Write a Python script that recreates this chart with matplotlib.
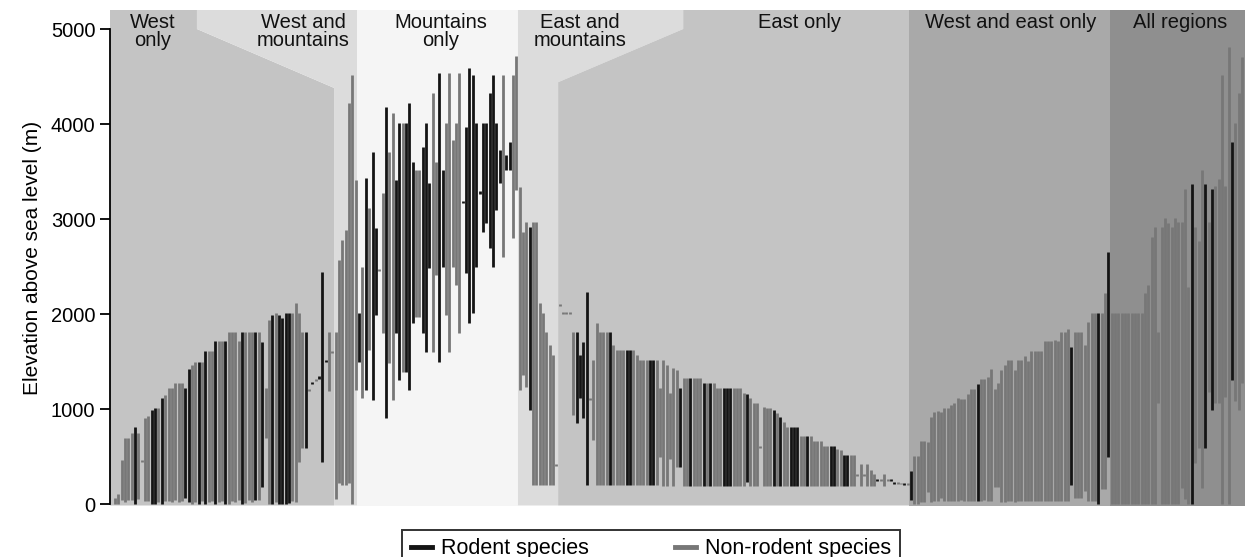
import matplotlib
matplotlib.use("Agg")
import matplotlib.pyplot as plt
from matplotlib.lines import Line2D
import numpy as np

plt.rcParams['font.family'] = ['Liberation Sans', 'DejaVu Sans']

# ---------------- data: elevation range of each species (m) ----------------
# West only (66)
west_lo = [0, 0, 40, 20, 40, 40, 0, 50, 440, 30,
           30, 0, 0, 20, 0, 30, 30, 20, 40, 20,
           30, 60, 20, 0, 20, 0, 30, 0, 20, 30,
           0, 20, 30, 0, 0, 30, 20, 40, 0, 10,
           40, 20, 40, 40, 180, 700, 0, 0, 20, 0,
           0, 0, 10, 30, 20, 440, 590, 590, 1190, 1260,
           1295, 1320, 440, 1495, 1190, 1590]
west_hi = [60, 110, 460, 700, 700, 750, 810, 750, 465, 910,
           930, 990, 1010, 1010, 1115, 1150, 1220, 1220, 1270, 1270,
           1270, 1220, 1420, 1465, 1500, 1500, 1500, 1610, 1610, 1610,
           1715, 1715, 1715, 1715, 1810, 1810, 1810, 1715, 1810, 1810,
           1810, 1810, 1810, 1810, 1705, 1220, 1940, 1990, 2010, 1990,
           1955, 2010, 2010, 2010, 2115, 2010, 1810, 1810, 1215, 1285,
           1320, 1345, 2440, 1520, 1810, 1615]
west_rod = [0, 0, 0, 0, 0, 0, 1, 0, 0, 0,
            0, 1, 1, 0, 1, 0, 0, 0, 0, 0,
            0, 1, 1, 0, 0, 1, 0, 1, 0, 0,
            1, 0, 0, 1, 0, 0, 0, 0, 1, 0,
            0, 0, 1, 0, 1, 0, 0, 1, 0, 1,
            1, 1, 1, 0, 0, 0, 0, 1, 0, 1,
            0, 1, 1, 1, 0, 0]
# West and mountains (7)
wm_lo = [50, 220, 200, 200, 220, 0, 1200]
wm_hi = [1810, 2570, 2780, 2885, 4220, 4515, 3410]
wm_rod = [0, 0, 0, 0, 0, 0, 0]
# Mountains only (48)
mtn_lo = [1495, 1115, 1200, 1620, 1095, 1990, 2450, 1800, 905, 1485,
          1095, 1800, 1305, 1390, 1390, 1200, 1905, 1970, 1970, 1800,
          1600, 2485, 1600, 2410, 1495, 2500, 1990, 1600, 2500, 2305,
          1800, 3170, 2430, 1905, 2010, 2500, 3265, 2865, 2955, 2695,
          2500, 3095, 3375, 2600, 3515, 3515, 2800, 3305]
mtn_hi = [2010, 2495, 3430, 3115, 3705, 2905, 2475, 3275, 4180, 3705,
          4115, 3410, 4010, 4010, 4010, 4220, 3600, 3515, 3515, 3760,
          4010, 3375, 4325, 3600, 4535, 3515, 4010, 4535, 3830, 4010,
          4535, 3195, 3970, 4590, 4515, 4010, 3290, 4010, 4010, 4325,
          4515, 4010, 3725, 4515, 3670, 3810, 4515, 4715]
mtn_rod = [1, 0, 1, 0, 1, 1, 0, 0, 1, 0,
           0, 1, 1, 0, 1, 1, 1, 0, 0, 1,
           1, 1, 0, 0, 1, 1, 0, 0, 0, 0,
           0, 1, 1, 1, 1, 1, 1, 1, 1, 1,
           1, 1, 1, 0, 1, 1, 0, 0]
# East and mountains (12)
em_lo = [1200, 1360, 1230, 990, 200, 200, 200, 200, 200, 200, 200, 400]
em_hi = [3340, 2865, 2970, 2915, 2970, 2970, 2115, 2010, 1810, 1675, 1570, 425]
em_rod = [0, 0, 0, 1, 0, 0, 0, 0, 0, 0, 0, 0]
# East only (105)
east_lo = [2085, 2000, 2000, 2000, 935, 850, 1115, 905, 200, 1095,
           675, 200, 200, 200, 200, 200, 200, 200, 200, 200,
           200, 200, 200, 200, 200, 200, 200, 200, 200, 200,
           495, 190, 190, 470, 190, 390, 390, 190, 190, 190,
           190, 190, 190, 190, 190, 190, 190, 190, 190, 190,
           190, 190, 190, 190, 190, 190, 230, 190, 190, 190,
           590, 190, 190, 190, 190, 190, 190, 190, 190, 190,
           190, 190, 190, 190, 190, 190, 190, 190, 190, 190,
           190, 190, 190, 190, 190, 190, 190, 190, 190, 300,
           190, 300, 190, 190, 190, 245, 245, 190, 245, 245,
           215, 215, 210, 205, 205]
east_hi = [2110, 2025, 2025, 2025, 1810, 1810, 1570, 1705, 2230, 1120,
           1515, 1905, 1810, 1810, 1810, 1810, 1675, 1620, 1620, 1620,
           1620, 1620, 1620, 1570, 1515, 1515, 1515, 1515, 1515, 1515,
           1220, 1515, 1465, 1170, 1430, 1410, 1220, 1325, 1325, 1325,
           1325, 1325, 1325, 1275, 1275, 1275, 1275, 1220, 1220, 1220,
           1220, 1220, 1220, 1220, 1220, 1170, 1160, 1115, 1060, 1060,
           615, 1020, 1010, 1010, 990, 955, 915, 865, 810, 810,
           810, 810, 715, 715, 715, 715, 665, 665, 665, 610,
           610, 610, 610, 580, 565, 515, 515, 515, 515, 315,
           420, 315, 420, 360, 315, 260, 260, 315, 260, 260,
           230, 230, 225, 220, 220]
east_rod = [0, 0, 0, 0, 0, 1, 1, 1, 1, 0,
            0, 0, 0, 0, 0, 1, 0, 0, 0, 0,
            1, 1, 0, 0, 0, 0, 0, 1, 1, 0,
            0, 0, 0, 0, 0, 0, 1, 0, 0, 1,
            0, 0, 0, 1, 0, 1, 0, 0, 0, 1,
            1, 1, 0, 0, 0, 0, 1, 0, 0, 0,
            0, 0, 0, 0, 1, 0, 1, 0, 0, 1,
            1, 1, 0, 0, 1, 0, 0, 0, 0, 0,
            0, 1, 1, 0, 0, 1, 1, 0, 0, 0,
            0, 0, 0, 0, 0, 1, 0, 0, 0, 1,
            1, 0, 0, 1, 0]
# West and east only (60)
we_lo = [40, 0, 0, 20, 20, 130, 20, 30, 30, 60,
         30, 30, 30, 30, 30, 40, 30, 30, 30, 30,
         30, 30, 40, 30, 30, 180, 180, 20, 20, 30,
         30, 20, 30, 30, 30, 30, 30, 30, 30, 30,
         30, 30, 30, 30, 30, 30, 30, 30, 200, 60,
         60, 60, 140, 30, 30, 30, 0, 160, 160, 495]
we_hi = [350, 505, 505, 665, 665, 650, 915, 965, 980, 965,
         1010, 1010, 1040, 1065, 1115, 1110, 1105, 1160, 1210, 1210,
         1265, 1315, 1315, 1335, 1420, 1210, 1270, 1410, 1465, 1515,
         1515, 1410, 1515, 1515, 1560, 1510, 1610, 1610, 1610, 1610,
         1715, 1715, 1715, 1730, 1715, 1810, 1810, 1840, 1655, 1810,
         1810, 1810, 1675, 1915, 2010, 2010, 2010, 2010, 2220, 2655]
we_rod = [1, 0, 0, 0, 0, 0, 0, 0, 0, 0,
          0, 0, 0, 0, 0, 0, 0, 0, 0, 0,
          1, 0, 0, 0, 0, 0, 0, 0, 0, 0,
          0, 0, 0, 0, 0, 0, 0, 0, 0, 0,
          0, 0, 0, 0, 0, 0, 0, 0, 1, 0,
          0, 0, 0, 0, 0, 0, 1, 0, 0, 1]
# All regions (40)
all_lo = [0, 0, 0, 0, 0, 0, 0, 0, 0, 0,
          0, 0, 0, 0, 1060, 0, 0, 0, 0, 0,
          0, 170, 50, 0, 0, 430, 590, 170, 590, 1180,
          990, 1060, 1060, 0, 1130, 0, 1305, 1090, 990, 1270]
all_hi = [2010, 2010, 2010, 2010, 2010, 2010, 2010, 2010, 2010, 2010,
          2220, 2305, 2810, 2915, 1810, 2915, 3010, 2955, 2915, 3010,
          2970, 2970, 3315, 2285, 3365, 2915, 2770, 3515, 3365, 2970,
          3315, 3345, 3420, 4515, 3345, 4810, 3810, 4010, 4325, 4705]
all_rod = [0, 0, 0, 0, 0, 0, 0, 0, 0, 0,
           0, 0, 0, 0, 0, 0, 0, 0, 0, 0,
           0, 0, 0, 0, 1, 0, 0, 0, 1, 0,
           1, 0, 0, 0, 0, 0, 1, 0, 0, 0]

region_names = ["West\nonly", "West and\nmountains", "Mountains\nonly",
                "East and\nmountains", "East only", "West and east only",
                "All regions"]
region_colors = ['#c4c4c4', '#dcdcdc', '#f5f5f5', '#dcdcdc', '#c4c4c4',
                 '#a9a9a9', '#8f8f8f']
# label-band corners (species index) where the "and mountains" bands widen
wm_band_start = 24.5
em_band_end = 169.9
wm_band_low = 4380   # elevation where slanted edge meets the species column
em_band_low = 4440
band_corner = 5000

lows = [west_lo, wm_lo, mtn_lo, em_lo, east_lo, we_lo, all_lo]
highs = [west_hi, wm_hi, mtn_hi, em_hi, east_hi, we_hi, all_hi]
rods = [west_rod, wm_rod, mtn_rod, em_rod, east_rod, we_rod, all_rod]

lo = np.concatenate([np.array(a, float) for a in lows])
hi = np.concatenate([np.array(a, float) for a in highs])
rod = np.concatenate([np.array(a) for a in rods]).astype(bool)
counts = [len(a) for a in lows]
n = len(lo)
x = np.arange(n)
edges = np.concatenate([[-1.5], np.cumsum(counts) - 0.5])
edges[-1] = n - 0.1

# ---------------- figure ----------------
W, H = 1245, 557
fig = plt.figure(figsize=(W / 100, H / 100), dpi=100)
ax = fig.add_axes([110 / W, (H - 505.5) / H, (W - 110) / W, 495.5 / H])
ymin, ymax = -15, 5200
ax.set_xlim(edges[0], edges[-1])
ax.set_ylim(ymin, ymax)

# background region polygons
polys = []
e = edges
polys.append([(e[0], ymin), (e[0], ymax), (wm_band_start, ymax), (wm_band_start, band_corner),
              (e[1], wm_band_low), (e[1], ymin)])
polys.append([(e[1], ymin), (e[1], wm_band_low), (wm_band_start, band_corner),
              (wm_band_start, ymax), (e[2], ymax), (e[2], ymin)])
polys.append([(e[2], ymin), (e[2], ymax), (e[3], ymax), (e[3], ymin)])
polys.append([(e[3], ymin), (e[3], ymax), (em_band_end, ymax), (em_band_end, band_corner),
              (e[4], em_band_low), (e[4], ymin)])
polys.append([(e[4], ymin), (e[4], em_band_low), (em_band_end, band_corner),
              (em_band_end, ymax), (e[5], ymax), (e[5], ymin)])
polys.append([(e[5], ymin), (e[5], ymax), (e[6], ymax), (e[6], ymin)])
polys.append([(e[6], ymin), (e[6], ymax), (e[7], ymax), (e[7], ymin)])
for p, c in zip(polys, region_colors):
    px, py = zip(*p)
    ax.fill(px, py, color=c, lw=0, zorder=0)

# species ranges
rod_col, non_col = '#141414', '#777777'
cols = [rod_col if r else non_col for r in rod]
lc = ax.vlines(x, lo, hi, colors=cols, linewidth=2.0, zorder=2)
lc.set_capstyle('butt')

# region labels
label_x = [11.3, 56.2, 97.3, 139.1, 204.8, 267.9, 318.5]
for name, lx in zip(region_names, label_x):
    ax.text(lx, 0.993, name, transform=ax.get_xaxis_transform(), ha='center',
            va='top', fontsize=14.5, linespacing=0.88, color='#111111', zorder=3)

# axes styling
for s in ['top', 'right', 'bottom']:
    ax.spines[s].set_visible(False)
ax.spines['left'].set_bounds(0, 5000)
ax.spines['left'].set_linewidth(1.3)
ax.set_xticks([])
ax.set_yticks([0, 1000, 2000, 3000, 4000, 5000])
ax.tick_params(axis='y', length=7, width=1.3, pad=3.5, labelsize=14.5)
ax.set_ylabel("Elevation above sea level (m)", fontsize=15, labelpad=6)

handles = [Line2D([0], [0], color=rod_col, lw=3.5),
           Line2D([0], [0], color=non_col, lw=3.5)]
leg = fig.legend(handles, ["Rodent species", "Non-rodent species"],
                 loc='upper center', bbox_to_anchor=(651 / W, 1 - 519 / H),
                 ncol=2, frameon=True, fancybox=False, edgecolor='black',
                 fontsize=15.5, handlelength=1.0, handletextpad=0.4,
                 columnspacing=4.0, borderpad=0.4)
leg.get_frame().set_linewidth(1.4)

fig.savefig("out.png", dpi=100)
